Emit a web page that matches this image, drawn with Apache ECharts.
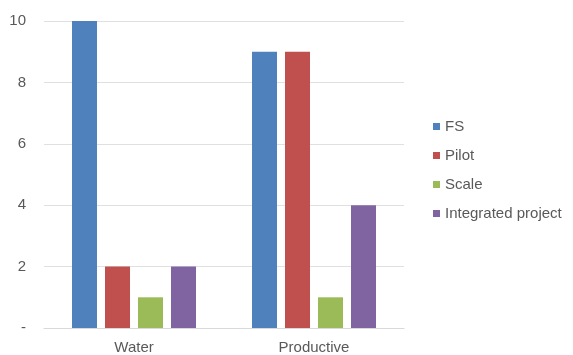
<!DOCTYPE html>
<html><head><meta charset="utf-8">
<script src="https://cdn.jsdelivr.net/npm/echarts@6/dist/echarts.min.js"></script>
<style>html,body{margin:0;padding:0;background:#fff}#c{width:573px;height:355px}</style>
</head><body><div id="c"></div>
<script>
const categories = ["Water", "Productive"];
const seriesNames = ["FS", "Pilot", "Scale", "Integrated project"];
const fsValues = [10, 9];
const pilotValues = [2, 9];
const scaleValues = [1, 1];
const integratedValues = [2, 4];
const colors = ["#4F81BD", "#C0504D", "#9BBB59", "#8064A2"];
const allValues = [fsValues, pilotValues, scaleValues, integratedValues];

const FONT = 'Liberation Sans, Arial, sans-serif';
const chart = echarts.init(document.getElementById('c'));
chart.setOption({
  animation: false,
  grid: { left: 44, right: 169, top: 21, bottom: 27, containLabel: false },
  legend: {
    orient: 'vertical', left: 428, top: 114, itemGap: 14,
    itemWidth: 7, itemHeight: 7, icon: 'rect',
    textStyle: { color: '#595959', fontSize: 15, fontFamily: FONT },
    data: seriesNames
  },
  xAxis: {
    type: 'category', data: categories,
    axisLine: { show: true, lineStyle: { color: '#d9d9d9' } },
    axisTick: { show: false },
    axisLabel: { color: '#595959', fontSize: 15, fontFamily: FONT, margin: 12 }
  },
  yAxis: {
    type: 'value', min: 0, max: 10, interval: 2,
    axisLine: { show: false }, axisTick: { show: false },
    splitLine: { lineStyle: { color: '#e0e0e0', width: 1 } },
    axisLabel: { color: '#595959', fontSize: 15, fontFamily: FONT, margin: 18,
      formatter: v => v === 0 ? '-' : String(v) }
  },
  series: seriesNames.map((n, i) => ({
    name: n, type: 'bar', data: allValues[i],
    itemStyle: { color: colors[i] },
    barWidth: 25, barGap: '32%', barCategoryGap: '31%'
  }))
});
</script></body></html>
